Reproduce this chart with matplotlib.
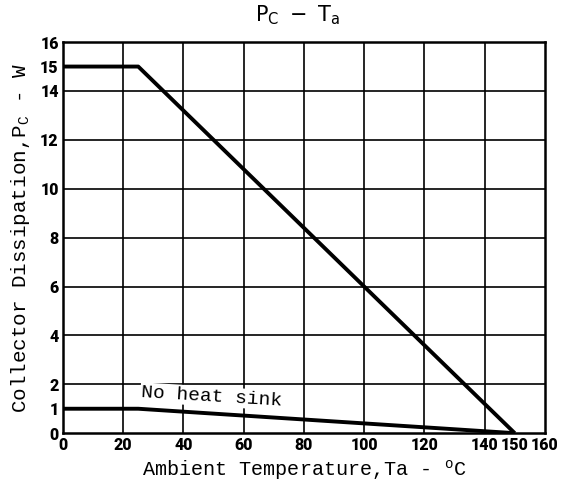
import matplotlib
matplotlib.use("Agg")
import matplotlib.pyplot as plt

# Data
temp_heatsink = [0, 25, 150]
pc_heatsink = [15, 15, 0]
temp_noheatsink = [0, 25, 150]
pc_noheatsink = [1, 1, 0]

xticks = [0, 20, 40, 60, 80, 100, 120, 140, 150, 160]
xticklabels = ["0", "20", "40", "60", "80", "100", "120", "140", "150", "160"]
yticks = [0, 1, 2, 4, 6, 8, 10, 12, 14, 15, 16]
yticklabels = ["0", "1", "2", "4", "6", "8", "10", "12", "14", "15", "16"]
xgrid = [20, 40, 60, 80, 100, 120, 140]
ygrid = [2, 4, 6, 8, 10, 12, 14]

fig = plt.figure(figsize=(5.67, 4.84), dpi=100)
ax = fig.add_axes([0.111, 0.105, 0.850, 0.808])
ax.set_xlim(0, 160)
ax.set_ylim(0, 16)

for gx in xgrid:
    ax.axvline(gx, color="black", lw=1.2, zorder=1)
for gy in ygrid:
    ax.axhline(gy, color="black", lw=1.2, zorder=1)

ax.plot(temp_heatsink, pc_heatsink, color="black", lw=2.8, zorder=3, solid_capstyle="butt")
ax.plot(temp_noheatsink, pc_noheatsink, color="black", lw=2.8, zorder=3, solid_capstyle="butt")

for s in ax.spines.values():
    s.set_linewidth(1.8)

ax.set_xticks(xticks)
ax.set_xticklabels(xticklabels, fontweight="heavy", fontsize=11.5, family="Roboto")
ax.set_yticks(yticks)
ax.set_yticklabels(yticklabels, fontweight="heavy", fontsize=11.5, family="Roboto")
ax.tick_params(length=0, pad=3)

ax.text(26, 1.5, "No heat sink", family="Liberation Mono", fontsize=14,
        rotation=-3.5, ha="left", va="center", zorder=4,
        bbox=dict(facecolor="white", edgecolor="none", pad=1.0))

ax.set_xlabel(r"Ambient Temperature,Ta - $\mathregular{^{o}}$C", family="Liberation Mono",
              fontsize=14.5, labelpad=3)
ax.set_ylabel(r"Collector Dissipation,P$\mathregular{_C}$ - W", family="Liberation Mono",
              fontsize=15, labelpad=6)
fig.text(0.525, 0.968, r"$\mathregular{P_C\ -\ T_a}$", ha="center", va="center",
         fontsize=15, family="DejaVu Sans")

fig.savefig("out.png", dpi=100)
